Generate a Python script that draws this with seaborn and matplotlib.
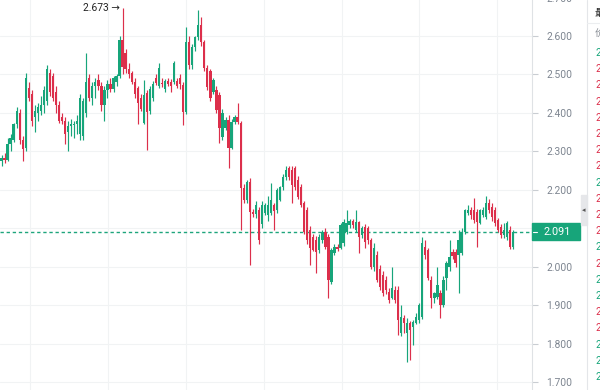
import pandas as pd
import matplotlib.pyplot as plt
import seaborn as sns
from matplotlib.patches import Rectangle
from matplotlib.lines import Line2D
from matplotlib.transforms import blended_transform_factory

# Datos OHLC (una vela por fila)
opens = [
    2.275, 2.282, 2.278, 2.320, 2.330, 2.370, 2.400, 2.330, 2.310, 2.465,
    2.450, 2.390, 2.400, 2.405, 2.420, 2.430, 2.505, 2.495, 2.455, 2.420,
    2.390, 2.380, 2.350, 2.365, 2.368, 2.372, 2.345, 2.340, 2.400, 2.490,
    2.440, 2.470, 2.485, 2.470, 2.420, 2.460, 2.475, 2.462, 2.480, 2.495,
    2.590, 2.555, 2.515, 2.505, 2.480, 2.465, 2.440, 2.374, 2.452, 2.405,
    2.440, 2.490, 2.470, 2.478, 2.462, 2.483, 2.480, 2.480, 2.482, 2.490,
    2.472, 2.402, 2.584, 2.524, 2.571, 2.597, 2.628, 2.584, 2.517, 2.510,
    2.454, 2.460, 2.446, 2.337, 2.361, 2.381, 2.309, 2.376, 2.389, 2.374,
    2.205, 2.174, 2.220, 2.142, 2.136, 2.147, 2.110, 2.140, 2.135, 2.140,
    2.160, 2.147, 2.174, 2.207, 2.233, 2.257, 2.252, 2.257, 2.226, 2.207,
    2.166, 2.147, 2.096, 2.077, 2.069, 2.044, 2.069, 2.090, 2.077, 1.960,
    2.036, 2.051, 2.049, 2.062, 2.090, 2.109, 2.118, 2.096, 2.116, 2.083,
    2.103, 2.100, 2.069, 1.999, 2.030, 1.995, 1.978, 1.966, 1.934, 1.919,
    1.940, 1.940, 1.828, 1.867, 1.828, 1.854, 1.843, 1.854, 1.862, 1.869,
    2.051, 2.044, 1.966, 1.919, 1.921, 1.932, 1.901, 1.971, 1.999, 2.038,
    2.038, 2.030, 2.036, 2.090, 2.140, 2.147, 2.147, 2.142, 2.114, 2.134,
    2.129, 2.166, 2.155, 2.147, 2.121, 2.103, 2.083, 2.077, 2.096, 2.051,
]
highs = [
    2.290, 2.295, 2.335, 2.345, 2.375, 2.415, 2.410, 2.340, 2.505, 2.480,
    2.460, 2.420, 2.425, 2.445, 2.470, 2.525, 2.515, 2.505, 2.470, 2.430,
    2.400, 2.390, 2.380, 2.385, 2.380, 2.395, 2.450, 2.440, 2.555, 2.500,
    2.480, 2.490, 2.500, 2.480, 2.470, 2.485, 2.490, 2.495, 2.500, 2.600,
    2.673, 2.565, 2.530, 2.510, 2.490, 2.470, 2.450, 2.486, 2.460, 2.470,
    2.482, 2.500, 2.530, 2.490, 2.488, 2.492, 2.488, 2.535, 2.490, 2.500,
    2.480, 2.623, 2.600, 2.580, 2.600, 2.667, 2.650, 2.590, 2.525, 2.515,
    2.490, 2.470, 2.455, 2.410, 2.390, 2.395, 2.385, 2.395, 2.426, 2.380,
    2.215, 2.225, 2.230, 2.150, 2.170, 2.155, 2.170, 2.165, 2.185, 2.218,
    2.165, 2.205, 2.210, 2.240, 2.262, 2.262, 2.262, 2.262, 2.235, 2.215,
    2.172, 2.155, 2.105, 2.085, 2.080, 2.085, 2.095, 2.100, 2.085, 2.050,
    2.060, 2.060, 2.115, 2.125, 2.147, 2.125, 2.125, 2.147, 2.120, 2.105,
    2.110, 2.105, 2.075, 2.062, 2.040, 2.005, 1.990, 1.975, 1.945, 2.000,
    1.950, 1.950, 1.901, 1.875, 1.867, 1.860, 1.862, 1.880, 1.905, 2.077,
    2.069, 2.050, 1.975, 1.935, 1.999, 1.940, 1.975, 2.015, 2.069, 2.045,
    2.045, 2.096, 2.100, 2.150, 2.160, 2.155, 2.179, 2.150, 2.150, 2.155,
    2.184, 2.175, 2.165, 2.155, 2.128, 2.110, 2.114, 2.118, 2.105, 2.095,
]
lows = [
    2.262, 2.270, 2.275, 2.300, 2.325, 2.360, 2.320, 2.275, 2.300, 2.430,
    2.365, 2.350, 2.380, 2.395, 2.400, 2.420, 2.445, 2.430, 2.400, 2.375,
    2.370, 2.320, 2.300, 2.340, 2.335, 2.345, 2.330, 2.330, 2.390, 2.430,
    2.420, 2.440, 2.460, 2.405, 2.380, 2.440, 2.455, 2.455, 2.470, 2.490,
    2.500, 2.505, 2.490, 2.475, 2.440, 2.370, 2.405, 2.370, 2.303, 2.398,
    2.432, 2.472, 2.465, 2.468, 2.455, 2.470, 2.455, 2.475, 2.465, 2.462,
    2.369, 2.398, 2.515, 2.515, 2.560, 2.590, 2.575, 2.510, 2.460, 2.430,
    2.450, 2.400, 2.322, 2.330, 2.355, 2.257, 2.305, 2.370, 2.370, 2.095,
    2.165, 2.165, 2.005, 2.130, 2.128, 2.060, 2.100, 2.135, 2.120, 2.135,
    2.096, 2.140, 2.170, 2.200, 2.225, 2.225, 2.166, 2.200, 2.175, 2.155,
    2.085, 2.060, 2.005, 2.040, 1.984, 2.035, 2.062, 2.045, 1.919, 1.955,
    2.030, 2.040, 2.045, 2.055, 2.085, 2.100, 2.100, 2.090, 2.036, 2.075,
    2.050, 2.060, 1.995, 1.990, 1.960, 1.940, 1.925, 1.930, 1.905, 1.915,
    1.905, 1.823, 1.820, 1.828, 1.752, 1.757, 1.797, 1.850, 1.855, 1.865,
    2.020, 1.965, 1.893, 1.905, 1.915, 1.867, 1.895, 1.940, 1.990, 2.020,
    2.000, 1.932, 2.030, 2.085, 2.135, 2.125, 2.115, 2.051, 2.110, 2.130,
    2.125, 2.140, 2.120, 2.105, 2.090, 2.075, 2.075, 2.070, 2.045, 2.045,
]
closes = [
    2.282, 2.278, 2.320, 2.335, 2.370, 2.405, 2.330, 2.305, 2.490, 2.440,
    2.380, 2.405, 2.415, 2.420, 2.460, 2.515, 2.455, 2.440, 2.420, 2.380,
    2.378, 2.345, 2.365, 2.370, 2.372, 2.378, 2.440, 2.432, 2.480, 2.440,
    2.470, 2.480, 2.470, 2.420, 2.460, 2.475, 2.462, 2.490, 2.495, 2.590,
    2.520, 2.515, 2.500, 2.480, 2.450, 2.425, 2.410, 2.446, 2.402, 2.462,
    2.475, 2.478, 2.518, 2.474, 2.483, 2.476, 2.470, 2.530, 2.470, 2.475,
    2.402, 2.584, 2.524, 2.571, 2.597, 2.628, 2.584, 2.517, 2.467, 2.439,
    2.486, 2.408, 2.361, 2.400, 2.381, 2.309, 2.376, 2.389, 2.376, 2.205,
    2.174, 2.220, 2.142, 2.136, 2.160, 2.070, 2.160, 2.160, 2.160, 2.174,
    2.145, 2.199, 2.207, 2.233, 2.252, 2.233, 2.212, 2.207, 2.181, 2.160,
    2.090, 2.069, 2.049, 2.044, 2.038, 2.077, 2.090, 2.051, 1.966, 2.044,
    2.051, 2.045, 2.109, 2.116, 2.114, 2.118, 2.109, 2.116, 2.077, 2.100,
    2.065, 2.069, 1.999, 2.049, 1.966, 1.947, 1.932, 1.940, 1.914, 1.945,
    1.914, 1.862, 1.869, 1.854, 1.854, 1.836, 1.856, 1.869, 1.901, 2.062,
    2.030, 1.971, 1.919, 1.932, 1.953, 1.901, 1.966, 2.010, 2.025, 2.028,
    2.010, 2.069, 2.090, 2.147, 2.147, 2.134, 2.121, 2.116, 2.147, 2.147,
    2.166, 2.147, 2.129, 2.114, 2.096, 2.083, 2.096, 2.114, 2.051, 2.091,
]

last_price = 2.091
max_label = "2.673"
price_ticks = [1.7, 1.8, 1.9, 2.0, 2.1, 2.2, 2.3, 2.4, 2.5, 2.6, 2.7]
time_grid = [9.4, 35.2, 61.0, 86.7, 112.5, 138.0, 163.7]

# Lista de operaciones a la derecha (solo se ve el primer digito)
trade_prices = ["2.092", "2.091", "2.091", "2.090", "2.091", "2.091", "2.092",
                "2.091", "2.092", "2.091", "2.091", "2.090", "2.091", "2.090",
                "2.091", "2.092", "2.091", "2.090", "2.091", "2.092", "2.092"]
trade_side = ["B", "S", "S", "S", "S", "S", "S", "S", "B", "S", "S", "S",
              "B", "S", "B", "B", "S", "S", "B", "B", "B"]

df = pd.DataFrame({"open": opens, "high": highs, "low": lows, "close": closes})
df["idx"] = range(len(df))
df["up"] = df["close"] >= df["open"]

GREEN = "#17a57a"
RED = "#dc2f4b"

sns.set_theme(style="white")
plt.rcParams["font.family"] = ["Roboto", "DejaVu Sans"]

fig = plt.figure(figsize=(6, 3.9), dpi=100)
# el eje se sale un poco por arriba y abajo (grafico recortado)
ax = fig.add_axes([0, -10 / 390, 532 / 600, 410 / 390])

colors = df["up"].map({True: GREEN, False: RED})
ax.vlines(df["idx"], df["low"], df["high"], colors=colors, lw=0.85, zorder=3)
ax.bar(df["idx"], df["close"] - df["open"], bottom=df["open"], width=0.75,
       color=colors, linewidth=0, zorder=4)

ax.set_xlim(-0.5, 175.25)
ax.set_ylim(1.6535, 2.7195)

ax.axhline(last_price, color="#1ea57c", lw=1, ls=(0, (2.4, 2.0)), zorder=2)

# maximo marcado
imax = df["high"].idxmax()
ax.text(imax - 1.0, df["high"].max(), max_label + " \u2192", ha="right", va="center",
        fontsize=7.4, color="#222222", zorder=5)

# ejes y rejilla (la etiqueta 2.100 queda tapada por la del ultimo precio)
ax.set_yticks(price_ticks)
ax.set_yticklabels(["" if abs(v - last_price) < 0.03 else f"{v:.3f}" for v in price_ticks])
ax.yaxis.tick_right()
ax.set_xticks(time_grid)
ax.set_xticklabels([])
ax.tick_params(axis="x", length=0)
ax.tick_params(axis="y", length=4, width=0.8, color="#c9cdd2", pad=6.5,
               labelsize=7.4, labelcolor="#7d8590")
ax.grid(True, color="#f1f3f4", lw=0.8, zorder=0)
for s in ["left", "top", "bottom"]:
    ax.spines[s].set_visible(False)
ax.spines["right"].set_color("#dfe2e5")
ax.spines["right"].set_linewidth(0.8)

# etiqueta del ultimo precio
tr = blended_transform_factory(fig.transFigure, ax.transData)
ax.add_patch(Rectangle((532 / 600, last_price - 0.0225), 48 / 600, 0.045,
                       transform=tr, color=GREEN, clip_on=False, zorder=6))
fig.add_artist(Line2D([533 / 600, 537 / 600], [last_price, last_price],
                      transform=tr, color="white", lw=0.8, zorder=7))
ax.text(557 / 600, last_price, f"{last_price:.3f}", transform=tr, ha="center",
        va="center", fontsize=7.8, color="white", zorder=7, clip_on=False)

# panel derecho (recortado)
fig.add_artist(Line2D([587 / 600, 587 / 600], [0, 1], transform=fig.transFigure,
                      color="#e4e6e9", lw=0.8))
fig.add_artist(Line2D([587 / 600, 1], [1 - 23 / 390, 1 - 23 / 390],
                      transform=fig.transFigure, color="#eceef0", lw=0.8))
fig.add_artist(Rectangle((581 / 600, 1 - 225 / 390), 6 / 600, 30 / 390,
                         transform=fig.transFigure, color="#e6e7ea"))
fig.text(584 / 600, 1 - 210 / 390, "\u25c2", ha="center", va="center",
         fontsize=5, color="#555555", family=["DejaVu Sans"])
fig.text(595 / 600, 1 - 13 / 390, "最新成交", ha="left", va="center", fontsize=7.5,
         color="#222222", family=["Noto Sans CJK SC", "DejaVu Sans"])
fig.text(595 / 600, 1 - 33 / 390, "价格(USDT)", ha="left", va="center", fontsize=7,
         color="#8a8f96", family=["Noto Sans CJK SC", "DejaVu Sans"])
for k, (p, side) in enumerate(zip(trade_prices, trade_side)):
    fig.text(595 / 600, 1 - (53 + 16.2 * k) / 390, p, ha="left", va="center",
             fontsize=7.4, color=GREEN if side == "B" else RED)

fig.savefig("out.png", dpi=100)
